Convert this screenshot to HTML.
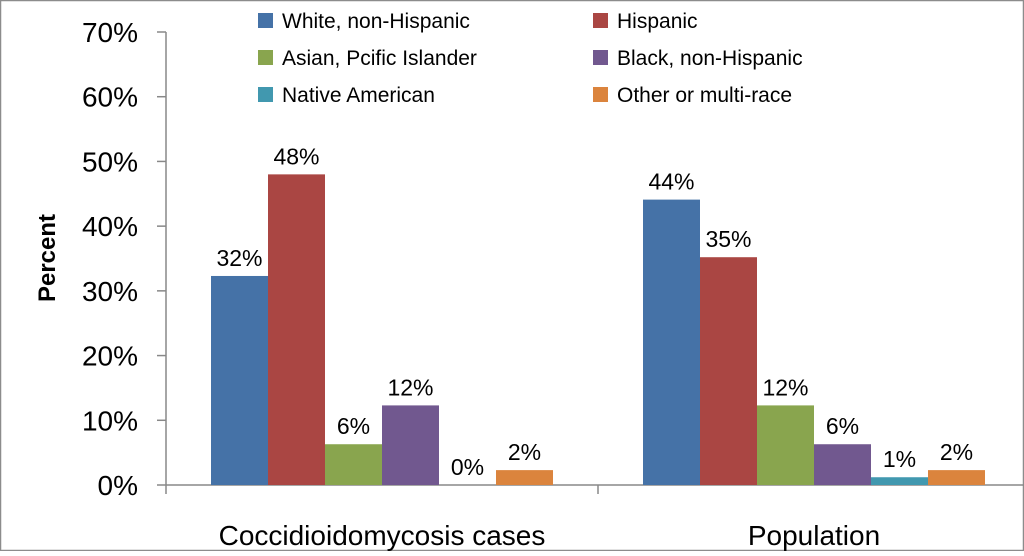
<!DOCTYPE html>
<html><head><meta charset="utf-8"><style>
body{margin:0;width:1024px;height:551px;overflow:hidden;background:#fff;font-family:"Liberation Sans",sans-serif}
</style></head><body>
<svg id="chart" width="1024" height="551" xmlns="http://www.w3.org/2000/svg" font-family="Liberation Sans, sans-serif">
<rect x="0.5" y="0.5" width="1023" height="550" fill="#fff" stroke="#8c8c8c" stroke-width="1.5"/>
<g id="g"></g>
</svg>
<script>
const categories = ["Coccidioidomycosis cases", "Population"];
const seriesNames = ["White, non-Hispanic","Hispanic","Asian, Pcific Islander","Black, non-Hispanic","Native American","Other or multi-race"];
const casesValues = [32.3, 48.0, 6.3, 12.3, 0, 2.3];
const populationValues = [44.1, 35.2, 12.3, 6.3, 1.2, 2.3];
const casesLabels = ["32%","48%","6%","12%","0%","2%"];
const populationLabels = ["44%","35%","12%","6%","1%","2%"];
const yTicks = [0,10,20,30,40,50,60,70];
const colors = ["#4572a7","#aa4643","#89a54e","#71588f","#4198af","#db843d"];
const NS="http://www.w3.org/2000/svg";
const g=document.getElementById('g');
const x0=166,x1=1030,yBase=485,yTop=32,yMax=70;
const y=v=>yBase-(v/yMax)*(yBase-yTop);
const catW=(x1-x0)/categories.length, barW=57;
function mk(t,a,txt){const e=document.createElementNS(NS,t);for(const k in a)e.setAttribute(k,a[k]);if(txt!==undefined)e.textContent=txt;g.appendChild(e);return e;}
let e=mk('line',{x1:x0,y1:yTop,x2:x0,y2:yBase,stroke:'#888','stroke-width':1.5});


e=mk('line',{x1:x0,y1:yBase,x2:x1,y2:yBase,stroke:'#888','stroke-width':1.5});


yTicks.forEach(t=>{
  let l=mk('line',{x1:x0-9,y1:y(t),x2:x0,y2:y(t),stroke:'#888','stroke-width':1.5});
  
  
  let tx=mk('text',{x:x0-28,y:y(t)+10,'font-size':28,'text-anchor':'end',fill:'#000'},t+'%');
  
  
});
for(let i=0;i<=categories.length;i++){
  let l=mk('line',{x1:x0+catW*i,y1:yBase,x2:x0+catW*i,y2:yBase+9,stroke:'#888','stroke-width':1.5});
  
  
}
const allVals=[casesValues,populationValues], allLabs=[casesLabels,populationLabels];
categories.forEach((c,ci)=>{
  const cx=x0+catW*(ci+0.5);
  const start=cx-barW*seriesNames.length/2;
  allVals[ci].forEach((v,si)=>{
    const bx=start+si*barW;
    let r=mk('rect',{x:bx,y:y(v),width:barW,height:yBase-y(v),fill:colors[si]});
    
    
    let t=mk('text',{x:bx+barW/2,y:y(v)-10,'font-size':23,'text-anchor':'middle',fill:'#000'},allLabs[ci][si]);
    
    
  });
  let t=mk('text',{x:cx,y:545,'font-size':28,'text-anchor':'middle',fill:'#000'},c);
  
  
});
e=mk('text',{x:55,y:258,'font-size':24,'font-weight':'bold','text-anchor':'middle',transform:'rotate(-90 55 258)'},'Percent');


seriesNames.forEach((n,i)=>{
  const col=i%2,row=Math.floor(i/2);
  const lx=col?593:258, ly=13+row*37;
  let r=mk('rect',{x:lx,y:ly,width:15,height:15,fill:colors[i]});
  
  
  let t=mk('text',{x:lx+24,y:ly+15,'font-size':21,fill:'#000'},n);
  
  
});
</script>
</body></html>
